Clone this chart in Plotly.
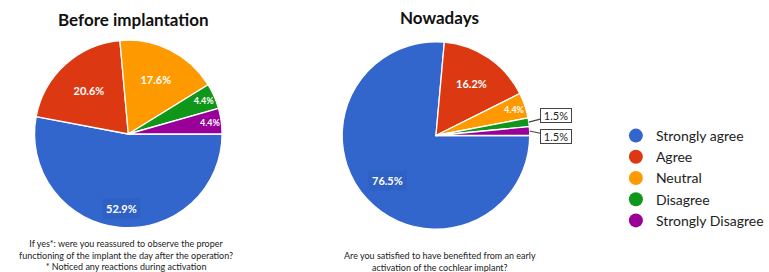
import math
import plotly.graph_objects as go

categories = ["Strongly agree", "Agree", "Neutral", "Disagree", "Strongly Disagree"]
before_values = [52.9, 20.6, 17.6, 4.4, 4.4]
now_values = [76.5, 16.2, 4.4, 1.5, 1.5]
colors = ["#3366CC", "#DC3912", "#FF9900", "#109618", "#990099"]

title_before = "Before implantation"
title_now = "Nowadays"
caption_before = ("If yes*: were you reassured to observe the proper<br>"
                  "functioning of the implant the day after the operation?<br>"
                  "* Noticed any reactions during activation")
caption_now = ("Are you satisfied to have benefited from an early<br>"
               "activation of the cochlear implant?")

W, H = 769, 272
FONT = "Lato"

dom1 = dict(x=[35 / W, 225 / W], y=[(H - 229) / H, (H - 39) / H])
dom2 = dict(x=[346.7 / W, 536.7 / W], y=[(H - 230.5) / H, (H - 40.5) / H])

fig = go.Figure()

# the largest slice of each pie gets its label as an annotation (placed from the data)
pos1 = ["none" if i == 0 else "inside" for i in range(len(before_values))]
pos2 = ["none" if (i == 0 or v < 3) else "inside" for i, v in enumerate(now_values)]

for vals, dom, pos in ((before_values, dom1, pos1), (now_values, dom2, pos2)):
    fig.add_trace(go.Pie(
        values=vals, labels=categories, sort=False, direction="clockwise",
        rotation=90, domain=dom, showlegend=False,
        marker=dict(colors=colors, line=dict(color="white", width=1.3)),
        texttemplate="%{value:.1f}%", textposition=pos,
        insidetextorientation="horizontal",
        textfont=dict(family=FONT, size=11, color="white", weight="bold"),
        hoverinfo="label+value",
    ))

# legend with circle markers
for c, col in zip(categories, colors):
    fig.add_trace(go.Scatter(x=[None], y=[None], mode="markers", name=c,
                             marker=dict(color=col, size=14, symbol="circle")))

annotations = []
annotations.append(dict(text="<b>" + title_before + "</b>", x=135 / W,
                        y=1 - 20 / H, xref="paper", yref="paper", showarrow=False,
                        font=dict(family=FONT, size=17, color="#111"), xanchor="center", yanchor="middle"))
annotations.append(dict(text="<b>" + title_now + "</b>", x=445.5 / W,
                        y=1 - 18 / H, xref="paper", yref="paper", showarrow=False,
                        font=dict(family=FONT, size=17, color="#111"), xanchor="center", yanchor="middle"))
annotations.append(dict(text=caption_before, x=128 / W, y=1 - 255 / H, xref="paper", yref="paper",
                        showarrow=False, align="center",
                        font=dict(family=FONT, size=9, color="#222"), xanchor="center", yanchor="middle"))
annotations.append(dict(text=caption_now, x=446 / W, y=1 - 261.5 / H, xref="paper", yref="paper",
                        showarrow=False, align="center",
                        font=dict(family=FONT, size=9, color="#222"), xanchor="center", yanchor="middle"))


def geom(dom):
    cx = (dom["x"][0] + dom["x"][1]) / 2
    cy = (dom["y"][0] + dom["y"][1]) / 2
    r_px = min((dom["x"][1] - dom["x"][0]) * W, (dom["y"][1] - dom["y"][0]) * H) / 2
    return cx, cy, r_px


def mid_angles(vals):
    total = sum(vals)
    out, cum = [], 0.0
    for v in vals:
        out.append(-((cum + v / 2) / total) * 2 * math.pi)  # clockwise from 3 o'clock
        cum += v
    return out


# big-slice labels
for vals, dom, frac in ((before_values, dom1, 0.79), (now_values, dom2, 0.70)):
    cx, cy, r_px = geom(dom)
    ang = mid_angles(vals)[0]
    annotations.append(dict(text="<b>%.1f%%</b>" % vals[0],
                            x=cx + frac * r_px * math.cos(ang) / W,
                            y=cy + frac * r_px * math.sin(ang) / H,
                            xref="paper", yref="paper", showarrow=False,
                            bgcolor="#2F60C4", borderpad=3,
                            font=dict(family=FONT, size=11, color="white"),
                            xanchor="center", yanchor="middle"))

# boxed outside labels for the small slices of the second pie
cx, cy, r_px = geom(dom2)
angs = mid_angles(now_values)
box_offsets = {3: (27, -7), 4: (26, 5.5)}
for i, v in enumerate(now_values):
    if i in box_offsets:
        ang = angs[i]
        ax, ay = box_offsets[i]
        annotations.append(dict(text="%.1f%%" % v,
                                x=cx + r_px * math.cos(ang) / W,
                                y=cy + r_px * math.sin(ang) / H,
                                xref="paper", yref="paper",
                                showarrow=True, arrowhead=0, arrowwidth=1.2, arrowcolor="#444",
                                ax=ax, ay=ay, bordercolor="#444", borderwidth=1, borderpad=1,
                                width=28, height=11,
                                bgcolor="white", font=dict(family=FONT, size=11, color="#222"),
                                xanchor="center", yanchor="middle"))

fig.update_layout(
    width=W, height=H, margin=dict(l=0, r=0, t=0, b=0), autosize=False,
    paper_bgcolor="white", plot_bgcolor="white",
    xaxis=dict(visible=False), yaxis=dict(visible=False),
    annotations=annotations,
    legend=dict(x=624 / W, y=1 - 178 / H, xanchor="left", yanchor="middle",
                font=dict(family=FONT, size=14, color="#222"), itemsizing="trace",
                tracegroupgap=0),
)

fig.write_html("out.html", config={"displayModeBar": False, "responsive": False},
               post_script="document.body.style.margin='0px';document.body.style.overflow='hidden';")
